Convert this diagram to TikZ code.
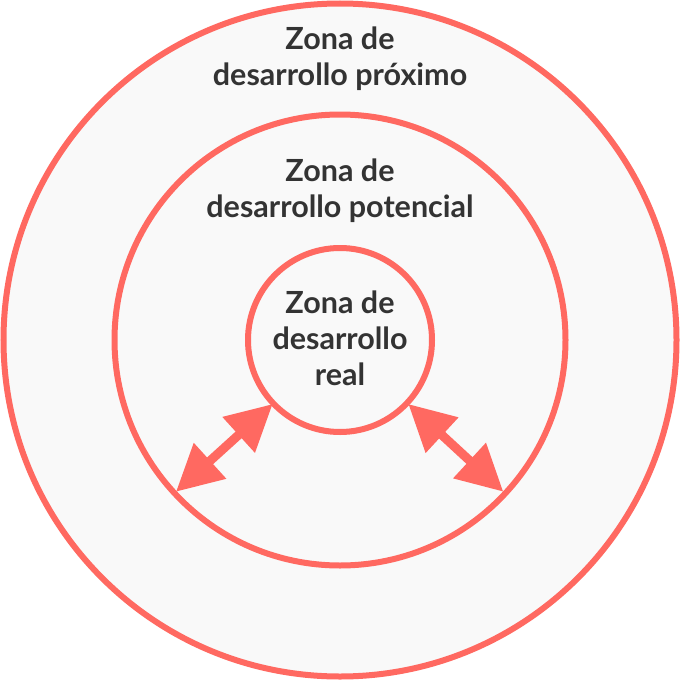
\documentclass[tikz,border=0pt]{standalone}
\usepackage{fontspec}
\setmainfont{Lato}
\usetikzlibrary{arrows.meta}
\definecolor{zred}{HTML}{FF6961}
\definecolor{zfill}{HTML}{F9F9F9}
\definecolor{ztext}{HTML}{333333}
\tikzset{
  zone/.style={circle, draw=zred, line width=6pt, fill=zfill, inner sep=0pt, minimum size=#1},
  zlabel/.style={text=ztext, align=center, inner sep=0pt, font=\fontsize{30.5}{36}\selectfont\bfseries, anchor=base},
  twoway/.style={draw=zred, line width=9pt, {Triangle[length=46pt,width=46pt,fill=zred]}-{Triangle[length=46pt,width=46pt,fill=zred]}}
}
\begin{document}
\begin{tikzpicture}[x=1pt,y=-1pt]
\useasboundingbox (0,0) rectangle (680,680);
\fill[white] (0,0) rectangle (680,680);
\node[zone=673pt] (outer) at (340,340) {};
\node[zone=451pt] (middle) at (340,340) {};
\node[zone=184pt] (inner) at (340,340) {};
\node[zlabel] (tout) at (340,85) {Zona de\\desarrollo próximo};
\node[zlabel] (tmid) at (340,217) {Zona de\\desarrollo potencial};
\node[zlabel] (tin) at (340,385) {Zona de\\desarrollo\\real};
\coordinate (la) at (272.7,404);
\coordinate (lb) at (176,491.7);
\coordinate (ra) at (408.3,404);
\coordinate (rb) at (503.3,491.7);
\draw[twoway] (la) -- (lb);
\draw[twoway] (ra) -- (rb);
\end{tikzpicture}
\end{document}
